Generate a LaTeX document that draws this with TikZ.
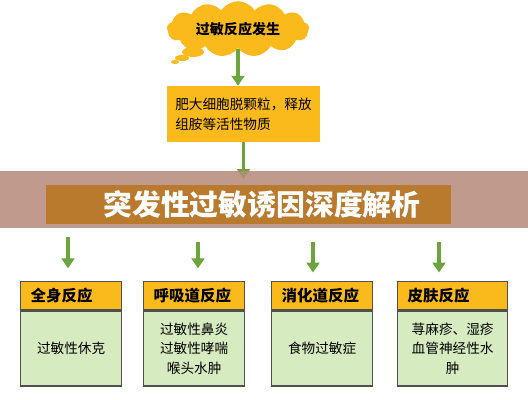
\documentclass[tikz,border=0pt]{standalone}
\usepackage{fontspec}
\setmainfont{Noto Sans CJK SC}
\usetikzlibrary{positioning,arrows.meta,shapes.symbols}
\definecolor{allerorange}{HTML}{FBBA1C}
\definecolor{allergreen}{HTML}{6CA53C}
\definecolor{allerbody}{HTML}{D7EBC1}
\definecolor{allerframe}{HTML}{505050}
\definecolor{allerband}{HTML}{B58A79}
\definecolor{allerbar}{HTML}{B97A2D}
\newcommand{\bodyfont}{\fontsize{9.7}{13.9}\selectfont}
\newcommand{\headfont}{\bfseries\fontsize{11}{13}\selectfont}

\begin{document}
\begin{tikzpicture}[x=0.025cm,y=-0.025cm,
    garr/.style={-{Triangle[length=7pt,width=9pt]},line width=2.4pt,allergreen},
    head/.style={draw=allerframe,line width=0.9pt,fill=allerorange,anchor=north west,
                 minimum width=#1,minimum height=0.7cm,inner xsep=0.25cm,inner ysep=0pt,
                 text width=#1-0.5cm,align=left,font=\headfont},
    body/.style={draw=allerframe,line width=0.9pt,fill=allerbody,
                 minimum width=#1,minimum height=1.875cm,align=center,font=\bodyfont},
  ]
    \useasboundingbox (0,0) rectangle (528,400);

    % top of the chain
    \node[cloud,cloud puffs=13,cloud puff arc=115,aspect=2.9,fill=allerorange,
          minimum width=3.55cm,minimum height=1.25cm,inner sep=0pt,
          font=\bfseries\fontsize{10}{12}\selectfont] (cloud) at (238,29) {过敏反应发生};
    \fill[allerorange] (193,52) ellipse [x radius=11,y radius=5];
    \fill[allerorange] (182,58) ellipse [x radius=7,y radius=3];
    \fill[allerorange] (175,62) ellipse [x radius=4,y radius=2];
    \node[fill=allerorange,minimum width=3.825cm,minimum height=1.4cm,align=left,
          font=\fontsize{9.7}{14.5}\selectfont] (mast) at (243.5,114)
          {肥大细胞脱颗粒，释放\\组胺等活性物质};
    \draw[garr] (cloud.south) -- (cloud.south |- mast.north);
    \coordinate (into) at (243.5,179);
    \draw[garr] (mast) -- (into);

    % banner
    \node[fill=allerband,fill opacity=0.85,minimum width=13.2cm,minimum height=1.425cm,
          inner sep=0pt] (band) at (264,199.5) {};
    \node[fill=allerbar,minimum width=10.125cm,minimum height=0.975cm,inner sep=0pt]
          (bar) at (248.5,204.5) {};
    \node[text=white,font=\bfseries\fontsize{20.5}{22}\selectfont] (title) at (262,205)
          {突发性过敏诱因深度解析};

    % reactions
    \node[head=2.525cm] (hd1) at (20,281) {全身反应};
    \node[body=2.525cm,below=0pt of hd1] (bd1) {过敏性休克};
    \node[head=2.525cm] (hd2) at (143,281) {呼吸道反应};
    \node[body=2.525cm,below=0pt of hd2] (bd2) {过敏性鼻炎\\过敏性哮喘\\喉头水肿};
    \node[head=2.525cm] (hd3) at (271,281) {消化道反应};
    \node[body=2.525cm,below=0pt of hd3] (bd3) {食物过敏症};
    \node[head=2.75cm] (hd4) at (397,281) {皮肤反应};
    \node[body=2.75cm,below=0pt of hd4] (bd4) {荨麻疹、湿疹\\血管神经性水\\肿};

    \coordinate (s1) at (68,237);
    \coordinate (s2) at (198,242);
    \coordinate (s3) at (313,242);
    \coordinate (s4) at (439,242);
    \draw[garr,shorten >=9pt] (s1) -- (s1 |- hd1.north);
    \draw[garr,shorten >=9pt] (s2) -- (s2 |- hd2.north);
    \draw[garr,shorten >=6pt] (s3) -- (s3 |- hd3.north);
    \draw[garr,shorten >=6pt] (s4) -- (s4 |- hd4.north);
  \end{tikzpicture}
\end{document}
